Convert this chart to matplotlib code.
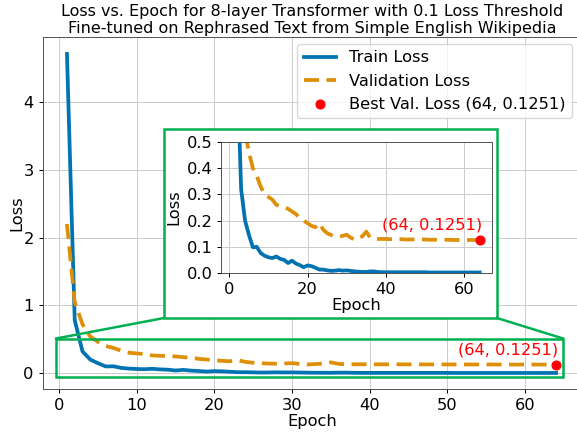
import matplotlib
matplotlib.use("Agg")
import matplotlib.pyplot as plt
from matplotlib.patches import Rectangle
from matplotlib.lines import Line2D
import numpy as np

epochs = list(range(1, 65))
train_loss = [
    4.71, 0.78, 0.32, 0.20, 0.145, 0.098, 0.100, 0.076, 0.066, 0.060,
    0.057, 0.063, 0.054, 0.050, 0.038, 0.047, 0.036, 0.030, 0.022, 0.029,
    0.026, 0.020, 0.013, 0.013, 0.010, 0.008, 0.009, 0.011, 0.009, 0.010,
    0.008, 0.006, 0.005, 0.004, 0.004, 0.006, 0.006, 0.004, 0.003, 0.003,
    0.003, 0.003, 0.003, 0.003, 0.003, 0.003, 0.003, 0.003, 0.003, 0.003,
    0.002, 0.002, 0.002, 0.002, 0.002, 0.002, 0.002, 0.002, 0.002, 0.002,
    0.002, 0.002, 0.002, 0.002,
]
val_loss = [
    2.20, 1.05, 0.72, 0.54, 0.46, 0.40, 0.37, 0.33, 0.30, 0.29,
    0.28, 0.26, 0.255, 0.25, 0.245, 0.235, 0.225, 0.21, 0.20, 0.19,
    0.18, 0.175, 0.19, 0.165, 0.152, 0.145, 0.140, 0.138, 0.142, 0.146,
    0.135, 0.127, 0.133, 0.140, 0.158, 0.135, 0.131, 0.130, 0.130, 0.130,
    0.129, 0.129, 0.129, 0.129, 0.128, 0.128, 0.128, 0.128, 0.128, 0.128,
    0.127, 0.127, 0.127, 0.127, 0.127, 0.127, 0.126, 0.126, 0.126, 0.126,
    0.126, 0.126, 0.1255, 0.1251,
]
best_epoch = 64
best_val = 0.1251

blue = "#0173B2"
orange = "#DE8F05"
green = "#00B050"
fs = 13

plt.rcParams["font.size"] = fs
fig = plt.figure(figsize=(577 / 90, 432 / 90), dpi=90)
ax = fig.add_axes([42.5 / 577, 43 / 432, 540 / 577, 352 / 432])

def draw_curves(a, with_labels):
    a.plot(epochs, train_loss, color=blue, lw=3,
           label="Train Loss" if with_labels else None)
    a.plot(epochs, val_loss, color=orange, lw=3, ls=(0, (4, 2)),
           label="Validation Loss" if with_labels else None)
    a.scatter([best_epoch], [best_val], color="red", s=50, zorder=5,
              label=f"Best Val. Loss ({best_epoch}, {best_val})" if with_labels else None)
    a.annotate(f"({best_epoch}, {best_val})", (best_epoch, best_val),
               xytext=(2, 6), textcoords="offset points", ha="right", va="bottom",
               color="red", fontsize=fs)
    a.grid(True, color="#cccccc")
    a.set_xlabel("Epoch", labelpad=1)
    for s in a.spines.values():
        s.set_color("#555555")

draw_curves(ax, True)
ax.set_ylabel("Loss", labelpad=-0.5)
ax.set_xlim(-2.15, 67.4)
ax.set_ylim(-0.235, 4.96)
ax.set_title("Loss vs. Epoch for 8-layer Transformer with 0.1 Loss Threshold\n"
             "Fine-tuned on Rephrased Text from Simple English Wikipedia",
             fontsize=12.8, pad=3, linespacing=1.15)
ax.legend(loc="upper right", fontsize=fs, borderaxespad=0,
          bbox_to_anchor=(572 / 577, 388 / 432), bbox_transform=fig.transFigure)

# zoomed region on the main axes
ax.add_patch(Rectangle((-0.4, -0.06), 65.3, 0.57, fill=False,
                       edgecolor=green, lw=2, zorder=6))

# white frame holding the inset
frame = (164 / 577, 114 / 432, 333 / 577, 189 / 432)
fig.add_artist(Rectangle(frame[:2], frame[2], frame[3], transform=fig.transFigure,
                         facecolor="white", edgecolor=green, lw=2, zorder=1))

to_fig = lambda x, y: fig.transFigure.inverted().transform(ax.transData.transform((x, y)))
for fx, dx in [(frame[0], -0.4), (frame[0] + frame[2], 64.9)]:
    p = to_fig(dx, 0.51)
    fig.add_artist(Line2D([fx, p[0]], [frame[1], p[1]], transform=fig.transFigure,
                          color=green, lw=2, zorder=1))

axins = fig.add_axes([221 / 577, 159 / 432, 271 / 577, 131 / 432], zorder=2)
draw_curves(axins, False)
axins.set_ylabel("Loss")
axins.set_xlim(-2.15, 67.15)
axins.set_ylim(0, 0.5)
axins.set_yticks(np.arange(0, 0.51, 0.1))

fig.savefig("out.png", dpi=90)
